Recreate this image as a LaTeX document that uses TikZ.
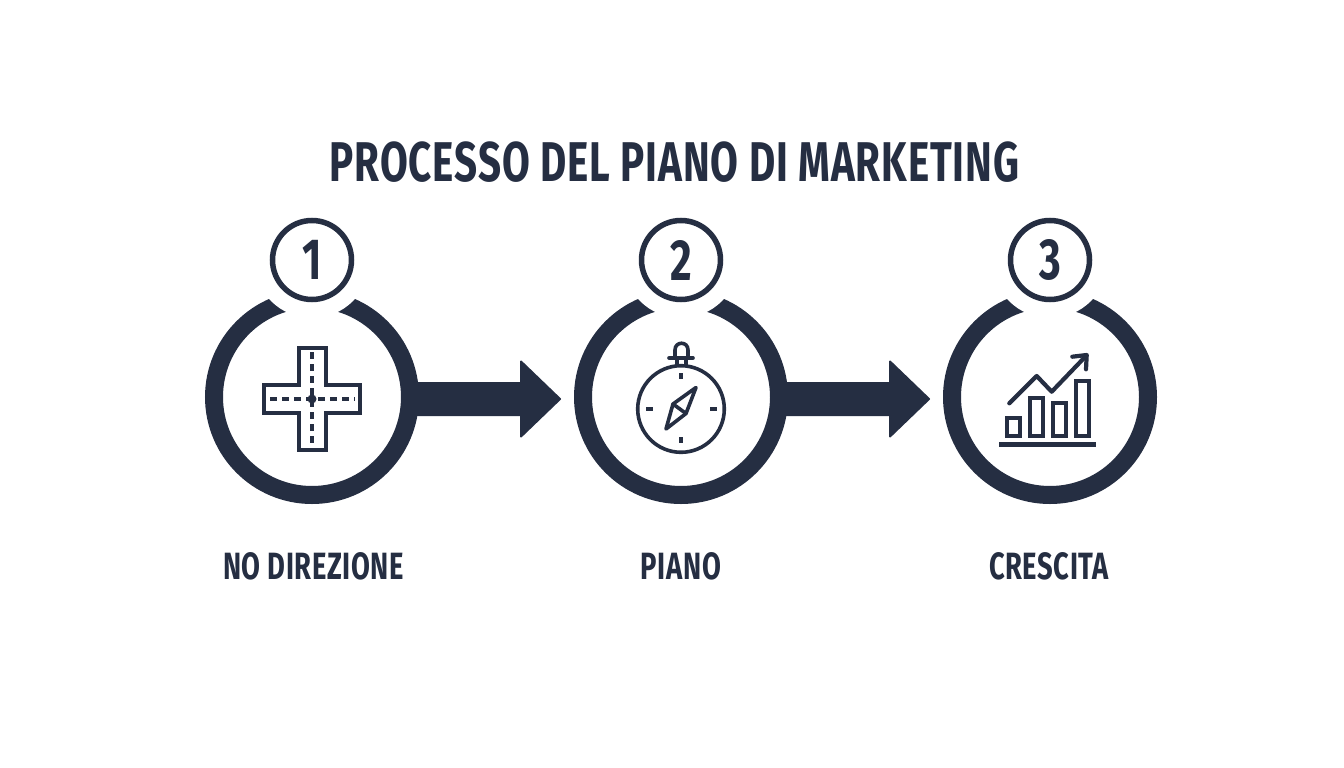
\documentclass[tikz,border=0pt]{standalone}
\usepackage{fontspec}
\setmainfont{Fira Sans}[BoldFont={Fira Sans Bold},FakeStretch=0.72,LetterSpace=1.6]
\usetikzlibrary{arrows.meta}
\definecolor{ink}{HTML}{252E42}
\tikzset{
  x=1pt,y=-1pt,
  badge/.style={circle,draw=ink,line width=5.5pt,fill=white,minimum size=79pt,inner sep=0pt,text=ink,font=\bfseries\fontsize{58}{58}\selectfont},
  cutout/.style={circle,fill=white,minimum size=116pt,inner sep=0pt},
  bigring/.style={circle,draw=ink,line width=18pt,fill=white,minimum size=196pt,inner sep=0pt},
  pointer/.style={fill=ink,draw=ink,line width=2pt,line join=round},
  title/.style={text=ink,font=\bfseries\fontsize{56}{56}\selectfont,inner sep=0pt},
  caption/.style={text=ink,font=\bfseries\fontsize{38}{38}\selectfont,inner sep=0pt},
  icon/.style={draw=ink,line width=4pt,line join=miter},
  iconb/.style={draw=ink,line width=3.6pt,line cap=round,line join=round},
  roadline/.style={draw=ink,line width=4pt,dash pattern=on 7pt off 5pt},
}
\begin{document}
\begin{tikzpicture}
\useasboundingbox (0,0) rectangle (1344,768);
\fill[white] (0,0) rectangle (1344,768);
\node[title] (t) at (674.5,162.5) {PROCESSO DEL PIANO DI MARKETING};

% rings first, so that the arrows join them
\node[bigring] (r1) at (312,397) {};
\node[bigring] (r2) at (681,397) {};
\node[bigring] (r3) at (1050,397) {};
\node[cutout] (c1) at (312,260) {};
\node[cutout] (c2) at (681,260) {};
\node[cutout] (c3) at (1050,260) {};
\node[badge] (b1) at (312,260) {1};
\node[badge] (b2) at (681,260) {2};
\node[badge] (b3) at (1050,260) {3};

% arrows
\draw[pointer] (r1.east) ++(-8,-14) -- (521,383) -- (521,361.5) -- (560,399) -- (521,436.5) -- (521,415) -- (402,415) -- cycle;
\draw[pointer] (r2.east) ++(-8,-14) -- (890,383) -- (890,361.5) -- (929,399) -- (890,436.5) -- (890,415) -- (771,415) -- cycle;

% crossroads icon
\draw[icon] (298.7,348) -- (326.3,348) -- (326.3,385.3) -- (360.3,385.3) -- (360.3,413) -- (326.3,413) -- (326.3,449.7) -- (298.7,449.7) -- (298.7,413) -- (264.3,413) -- (264.3,385.3) -- (298.7,385.3) -- cycle;
\draw[roadline] (270,399) -- (355,399);
\draw[roadline] (312,352) -- (312,445);
\fill[ink] (312,399) circle (4.5);

% compass icon
\draw[iconb] (681,409) circle (43.3);
\draw[iconb] (669,358) -- (693,358);
\draw[iconb] (675,358) -- (675,350) .. controls (675,341) and (688,341) .. (688,350) -- (688,358);
\draw[iconb] (677,358) -- (677,365) (686,358) -- (686,365);
\draw[iconb,line cap=butt,line width=4pt] (681,373) -- (681,379) (681,437) -- (681,443);
\draw[iconb,line cap=butt,line width=4pt] (646,409) -- (653,409) (710,409) -- (717,409);
\draw[iconb] (696,387.5) -- (673,404) -- (666,429) -- (686,413.5) -- cycle;
\draw[iconb] (673,404) -- (686,413.5);

% growth icon
\draw[icon] (1007,418) rectangle (1019.7,436.3);
\draw[icon] (1029.7,397.7) rectangle (1043,436.3);
\draw[icon] (1053,403) rectangle (1065.7,436.3);
\draw[icon] (1076,381) rectangle (1088.7,436.3);
\draw[draw=ink,line width=5pt] (999,444.8) -- (1096,444.8);
\draw[iconb,line width=4.2pt] (1009.3,403.3) -- (1036.7,376) -- (1051.7,391.7) -- (1085,357);
\draw[iconb,line width=4.2pt] (1072.3,356.7) -- (1086.7,355) -- (1086,369.3);

% captions
\node[caption] (l1) at (313.5,566) {NO DIREZIONE};
\node[caption] (l2) at (681,566) {PIANO};
\node[caption] (l3) at (1049,566) {CRESCITA};
\end{tikzpicture}
\end{document}
